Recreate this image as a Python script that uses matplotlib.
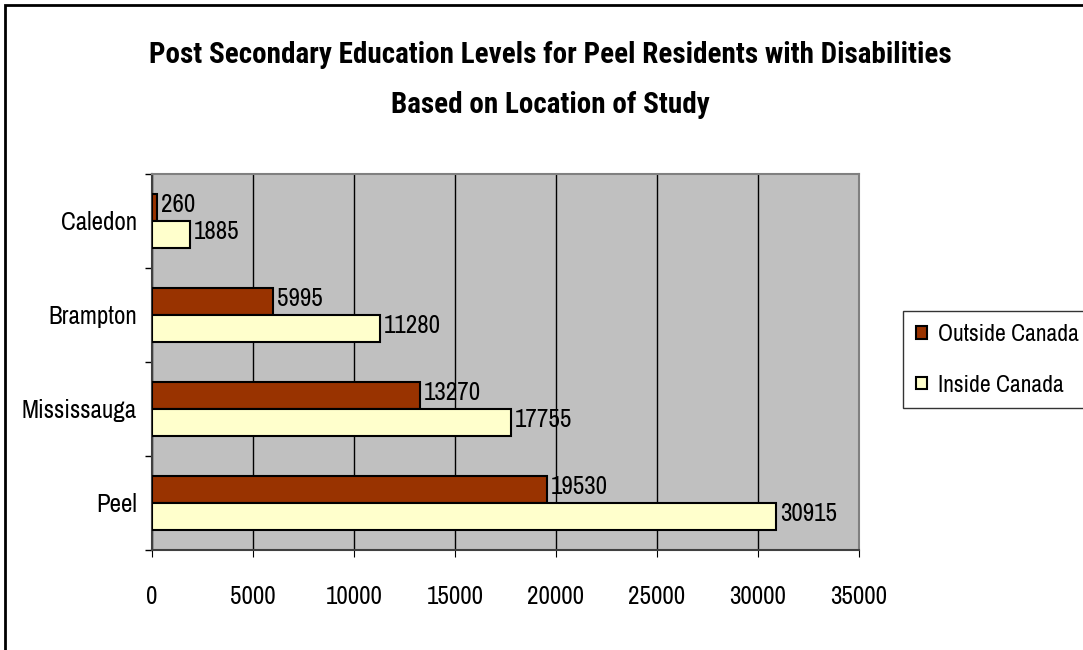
import numpy as np
import matplotlib
matplotlib.use('Agg')
import matplotlib.pyplot as plt
from matplotlib.patches import Rectangle

# data
cities = ['Peel', 'Mississauga', 'Brampton', 'Caledon']
outside = [19530, 13270, 5995, 260]
inside = [30915, 17755, 11280, 1885]
x_ticks = [0, 5000, 10000, 15000, 20000, 25000, 30000, 35000]

plt.rcParams['font.family'] = ['Archivo Narrow', 'Liberation Sans', 'DejaVu Sans']
title_font = ['Roboto Condensed', 'Fira Sans Condensed', 'DejaVu Sans']
FS = 18

W, H = 1083, 650
fig = plt.figure(figsize=(W / 100, H / 100), dpi=100)

# outer chart frame (right and bottom edges run off the picture)
fig.patches.append(Rectangle((5 / W, -0.2), 1.2, 0.2 + 1 - 5 / H, transform=fig.transFigure,
                             fill=False, edgecolor='black', linewidth=2))

ax = fig.add_axes([152 / W, 1 - 550 / H, (859 - 152) / W, (550 - 174) / H])
ax.set_facecolor('#C0C0C0')

y = np.arange(len(cities))
h = 0.29
b1 = ax.barh(y + h / 2, outside, height=h, color='#993300', edgecolor='black', linewidth=1.5,
             label='Outside Canada', zorder=3)
b2 = ax.barh(y - h / 2, inside, height=h, color='#FFFFCC', edgecolor='black', linewidth=1.5,
             label='Inside Canada', zorder=3)

for bars, vals in [(b1, outside), (b2, inside)]:
    for bar, v in zip(bars, vals):
        ax.text(bar.get_width() + 200, bar.get_y() + bar.get_height() / 2 + 0.03, str(v),
                va='center', ha='left', fontsize=FS, zorder=4)

ax.set_xlim(0, 35000)
ax.set_ylim(-0.5, len(cities) - 0.5)
ax.set_xticks(x_ticks)
ax.set_xticklabels([str(t) for t in x_ticks], fontsize=FS)
ax.set_yticks(y)
ax.set_yticklabels(cities, fontsize=FS)
ax.tick_params(axis='y', length=0, pad=11)
ax.set_yticks(np.arange(-0.5, len(cities)), minor=True)
ax.tick_params(axis='y', which='minor', length=5, direction='out', width=1)
ax.tick_params(axis='x', length=5, direction='out', pad=20)
ax.xaxis.grid(True, color='black', linewidth=1, zorder=0)
ax.set_axisbelow(True)

for s in ['top', 'right']:
    ax.spines[s].set_color('#808080')
    ax.spines[s].set_linewidth(1.5)
for s in ['left', 'bottom']:
    ax.spines[s].set_color('#404040')
    ax.spines[s].set_linewidth(1.5)

fig.text(550 / W, 1 - 55 / H, 'Post Secondary Education Levels for Peel Residents with Disabilities',
         ha='center', va='center', fontsize=21, fontweight='bold', family=title_font)
fig.text(550 / W, 1 - 105 / H, 'Based on Location of Study',
         ha='center', va='center', fontsize=21, fontweight='bold', family=title_font)

leg = fig.legend(handles=[b1, b2], loc='upper left', bbox_to_anchor=(903 / W, 1 - 311 / H),
                 frameon=True, fancybox=False, edgecolor='black', fontsize=17,
                 handlelength=0.45, handleheight=0.45, handletextpad=0.5, labelspacing=1.25,
                 borderpad=0.55, borderaxespad=0)
leg.get_frame().set_linewidth(1)

fig.savefig('out.png', dpi=100, facecolor='white')
